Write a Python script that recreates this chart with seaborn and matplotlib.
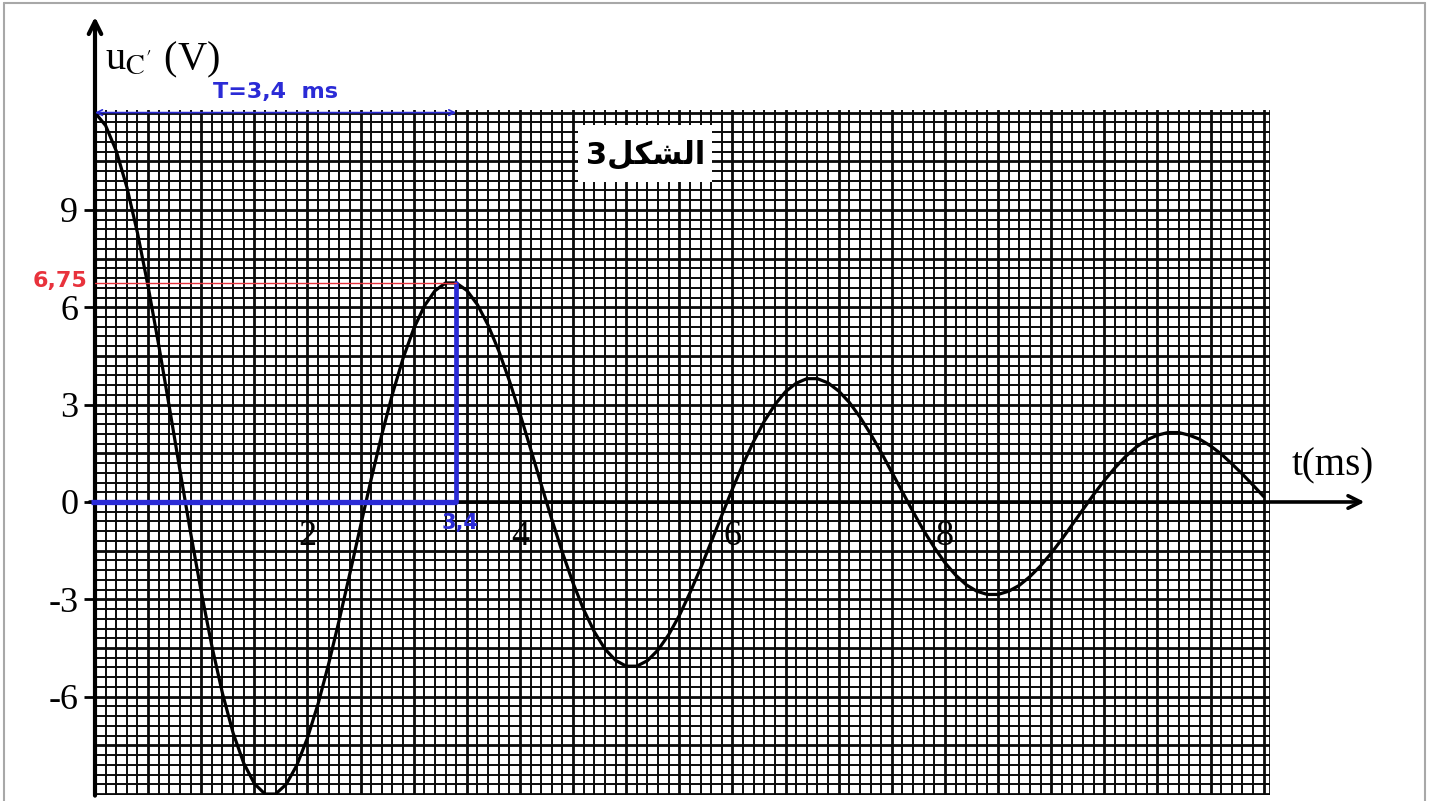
import numpy as np
import pandas as pd
import seaborn as sns
import matplotlib
matplotlib.use("Agg")
from matplotlib import pyplot as plt
from matplotlib.patches import Rectangle
from matplotlib.lines import Line2D

sns.set_style("white")
plt.rcParams['mathtext.fontset'] = 'stix'
plt.rcParams['text.color'] = 'black'
plt.rcParams['ytick.color'] = 'black'

# readings of u_C' (V) every 0.1 ms, from t = 0 to t = 11.0 ms
u_volts = [12.00, 11.60, 10.82, 9.70, 8.29, 6.64, 4.83, 2.92, 0.97, -0.95,
           -2.77, -4.44, -5.90, -7.12, -8.05, -8.68, -9.00, -9.00, -8.70, -8.11,
           -7.27, -6.22, -4.98, -3.62, -2.19, -0.73, 0.71, 2.08, 3.33, 4.43,
           5.34, 6.04, 6.51, 6.75, 6.75, 6.52, 6.08, 5.45, 4.66, 3.74,
           2.72, 1.64, 0.54, -0.54, -1.56, -2.50, -3.32, -4.00, -4.53, -4.88,
           -5.06, -5.06, -4.89, -4.56, -4.09, -3.50, -2.80, -2.04, -1.23, -0.41,
           0.40, 1.17, 1.87, 2.49, 3.00, 3.40, 3.66, 3.80, 3.80, 3.67,
           3.42, 3.07, 2.62, 2.10, 1.53, 0.92, 0.31, -0.30, -0.88, -1.40,
           -1.87, -2.25, -2.55, -2.75, -2.85, -2.85, -2.75, -2.57, -2.30, -1.97,
           -1.58, -1.15, -0.69, -0.23, 0.23, 0.66, 1.05, 1.40, 1.69, 1.91,
           2.06, 2.14, 2.14, 2.06, 1.93, 1.73, 1.48, 1.18, 0.86, 0.52, 0.17]
t_ms = [round(0.1 * i, 1) for i in range(len(u_volts))]

y_ticks = [-6, -3, 0, 3, 6, 9]
x_tick_labels = [2, 4, 6, 8]
period = 3.4
first_peak = 6.75
title_txt = "3\uFEDE\uFEDC\uFEB8\uFEDF\uFE8D"  # الشكل3 (shaped glyphs)

df = pd.DataFrame({'t': t_ms, 'u': u_volts})

W, H = 1435, 801
fig = plt.figure(figsize=(W / 100, H / 100), dpi=100)
ax = fig.add_axes([95 / W, 6 / H, 1175 / W, 685 / H])
ax.set_xlim(0, 11.06)
ax.set_ylim(-9.03, 12.08)

# graph paper
for i in range(111):
    x = round(i * 0.1, 1)
    ax.axvline(x, color='#0a0a0a', lw=2.0 if i % 5 == 0 else 1.4, zorder=1)
for j in range(71):
    y = -9 + j * 0.3
    ax.axhline(y, color='#0a0a0a', lw=2.0 if j % 5 == 0 else 1.4, zorder=1)
ax.axvline(11.06, color='#0a0a0a', lw=2.0, zorder=1)

# curve
sns.lineplot(data=df, x='t', y='u', ax=ax, color='black', lw=2.3, zorder=5)

# title box
ax.add_patch(Rectangle((4.55, 9.86), 1.26, 1.76, facecolor='white', edgecolor='none', zorder=6))
ax.text(5.18, 10.72, title_txt, ha='center', va='center', fontsize=22,
        fontweight='bold', family='DejaVu Sans', zorder=7)

# axes
for s in ax.spines.values():
    s.set_visible(False)
ax.annotate('', xy=(0, 14.95), xytext=(0, -9.05), annotation_clip=False,
            arrowprops=dict(arrowstyle='->,head_length=0.9,head_width=0.45', lw=3,
                            color='black', shrinkA=0, shrinkB=0), zorder=8)
ax.annotate('', xy=(11.95, 0), xytext=(-0.05, 0), annotation_clip=False,
            arrowprops=dict(arrowstyle='->,head_length=0.9,head_width=0.45', lw=2.6,
                            color='black', shrinkA=0, shrinkB=0), zorder=8)

ax.set_xticks([])
ax.set_yticks(y_ticks)
ax.set_yticklabels([str(v) for v in y_ticks], family='Liberation Serif', fontsize=26)
ax.tick_params(axis='y', length=8, width=2, pad=4, left=True, direction='out')
ax.set_xlabel('')
ax.set_ylabel('')

for xv in x_tick_labels:
    ax.plot([xv, xv], [-0.3, 0.35], color='black', lw=2, zorder=8)
    ax.text(xv, -1.05, str(xv), ha='center', va='center', family='Liberation Serif',
            fontsize=26, zorder=8)

fig.text(105 / W, 1 - 60 / H, r"u$_{\mathrm{C'}}$ (V)", family='Liberation Serif',
         fontsize=29, ha='left', va='center')
fig.text(1333 / W, 1 - 466 / H, "t(ms)", family='Liberation Serif', fontsize=28,
         ha='center', va='center')

# annotations
blue = '#2b2bd6'
red = '#e8323c'
ax.annotate('', xy=(period, 12.0), xytext=(0, 12.0), annotation_clip=False,
            arrowprops=dict(arrowstyle='<->', lw=1.2, color=blue, shrinkA=0, shrinkB=0),
            zorder=9)
ax.text(period / 2, 12.65, "T=3,4  ms", color=blue, fontsize=16, fontweight='bold',
        ha='center', va='center', clip_on=False)
ax.plot([-0.04, period], [0, 0], color=blue, lw=3.8, zorder=9, clip_on=False,
        solid_capstyle='butt')
ax.plot([period, period], [0, first_peak], color=blue, lw=3.4, zorder=9)
ax.plot([0, period], [first_peak, first_peak], color=red, lw=1.0, zorder=9)
ax.text(-0.33, first_peak + 0.05, "6,75", color=red, fontsize=16, fontweight='bold',
        ha='center', va='center', clip_on=False)
ax.text(period + 0.04, -0.65, "3,4", color=blue, fontsize=15, fontweight='bold',
        ha='center', va='center', zorder=9)

# outer frame
for xs, ys in [([4, 4], [3, H]), ([4, 1425], [3, 3]), ([1425, 1425], [3, H])]:
    fig.add_artist(Line2D([x / W for x in xs], [1 - y / H for y in ys], color='#a8a8a8', lw=1.5))

fig.savefig('out.png', dpi=100)
